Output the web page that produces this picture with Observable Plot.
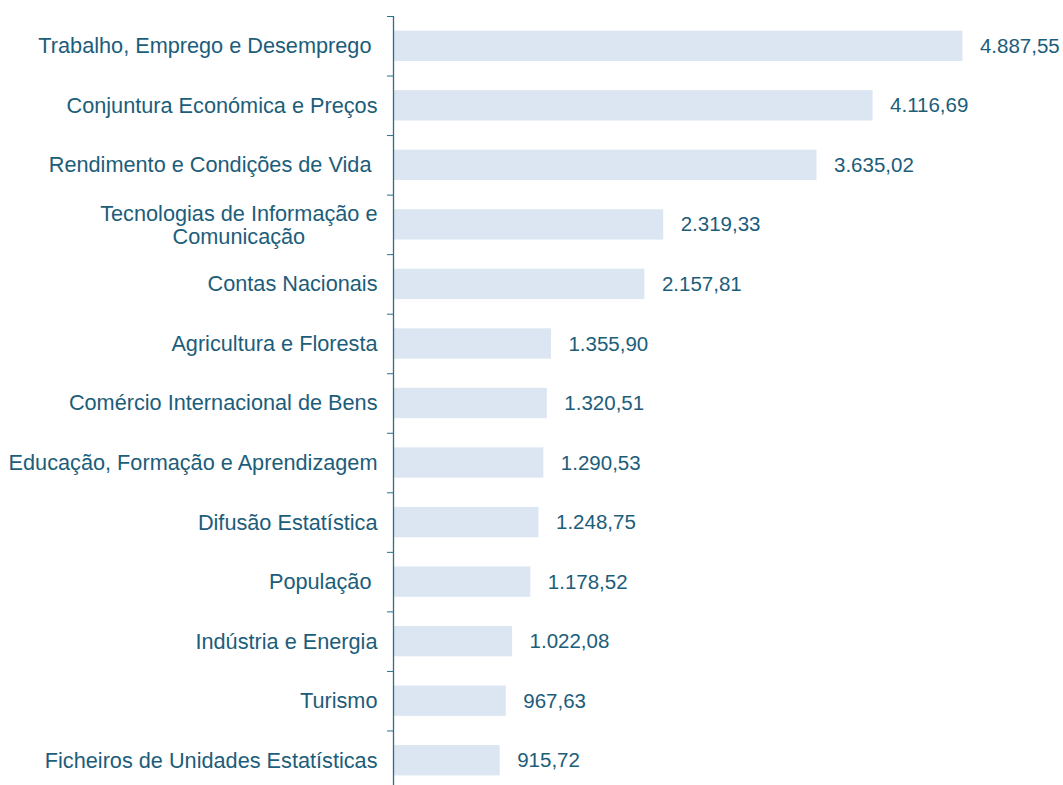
<!DOCTYPE html>
<html>
<head>
<meta charset="utf-8">
<script src="https://cdn.jsdelivr.net/npm/d3@7"></script>
<script src="https://cdn.jsdelivr.net/npm/@observablehq/plot@0.6"></script>
<style>
  html, body { margin: 0; padding: 0; overflow: hidden; background: #fff; }
  svg text { white-space: pre; }
</style>
</head>
<body>
<div id="chart"></div>
<script>
const categories = [
  "Trabalho, Emprego e Desemprego ",
  "Conjuntura Económica e Preços",
  "Rendimento e Condições de Vida ",
  "Tecnologias de Informação e\nComunicação",
  "Contas Nacionais",
  "Agricultura e Floresta",
  "Comércio Internacional de Bens",
  "Educação, Formação e Aprendizagem",
  "Difusão Estatística",
  "População ",
  "Indústria e Energia",
  "Turismo",
  "Ficheiros de Unidades Estatísticas"
];
const values = [4887.55, 4116.69, 3635.02, 2319.33, 2157.81, 1355.90, 1320.51, 1290.53, 1248.75, 1178.52, 1022.08, 967.63, 915.72];

const data = categories.map((c, i) => ({cat: c, value: values[i]}));

const pt = d3.formatLocale({decimal: ",", thousands: ".", grouping: [3], currency: ["", "€"]});
const fmt = pt.format(",.2f");

const textColor = "#1c5d7a";
const axisColor = "#2b6e8c";
const barColor = "#dce6f2";
const fontFamily = "Arial, 'Liberation Sans', sans-serif";
const catSize = 21.7;
const valSize = 20.5;

const W = 1063, H = 800, mTop = 16, mBottom = 10, mLeft = 393, mRight = 87.5;
const step = (H - mTop - mBottom) / categories.length;

// measure text widths for block-centred multi-line labels
const ctx = document.createElement("canvas").getContext("2d");
ctx.font = `${catSize}px ${fontFamily}`;
function blockWidth(s) { return d3.max(s.split("\n"), l => ctx.measureText(l).width); }

const single = data.filter(d => !d.cat.includes("\n"));
const multi = data.filter(d => d.cat.includes("\n"));

const chart = Plot.plot({
  width: W,
  height: H,
  marginTop: mTop,
  marginBottom: mBottom,
  marginLeft: mLeft,
  marginRight: mRight,
  style: {fontFamily: fontFamily, fontSize: catSize + "px", color: textColor, background: "#fff"},
  x: {domain: [0, 5000], axis: null},
  y: {domain: categories, paddingInner: 0.49, paddingOuter: 0.245, round: false, axis: null},
  marks: [
    Plot.barX(data, {x: "value", y: "cat", fill: barColor}),
    Plot.ruleX([0], {stroke: axisColor, strokeWidth: 1.3}),
    Plot.axisY({tickSize: 6, tickFormat: () => "", label: null, stroke: axisColor, dy: -step / 2}),
    Plot.text(single, {x: 0, y: "cat", text: "cat", textAnchor: "end", dx: -16, fill: textColor, fontSize: catSize}),
    ...multi.map(d => Plot.text([d], {x: 0, y: "cat", text: "cat", textAnchor: "middle", lineHeight: 1.07, dx: -16 - blockWidth(d.cat) / 2, fill: textColor, fontSize: catSize})),
    Plot.text(data, {x: "value", y: "cat", text: d => fmt(d.value), textAnchor: "start", dx: 17, fill: textColor, fontSize: valSize})
  ]
});
document.getElementById("chart").appendChild(chart);
</script>
</body>
</html>
